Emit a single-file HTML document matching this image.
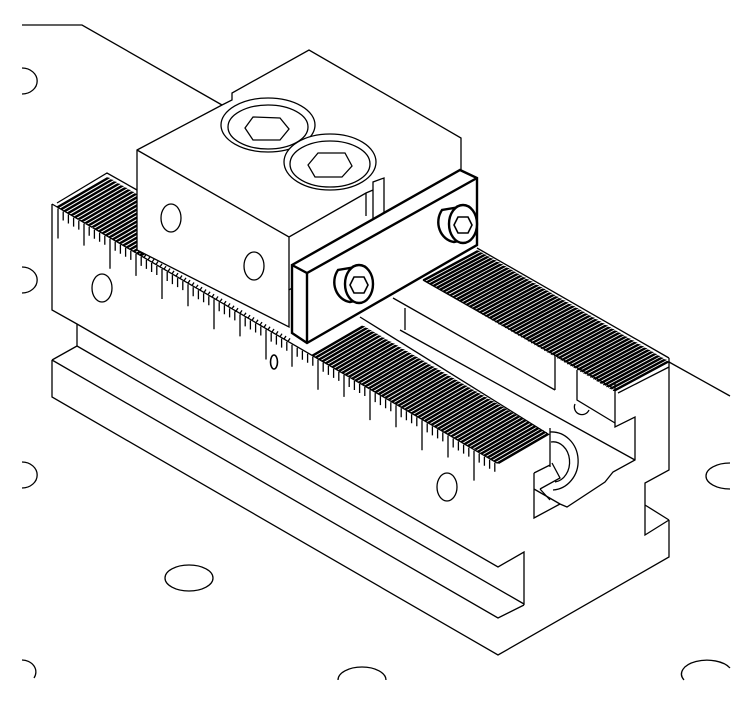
<!DOCTYPE html>
<html><head><style>
html,body{margin:0;padding:0;background:#fff;}
svg{display:block}
</style></head><body>
<svg width="750" height="705" viewBox="0 0 750 705" xmlns="http://www.w3.org/2000/svg">
<g fill="none" stroke="#000" stroke-width="1.3" stroke-linejoin="miter">
<!-- background -->
<path d="M22,25 L82,25 L222,105"/>
<path d="M669,362 L730,396"/>
<path d="M22,68 A14,12 0 0 1 22,94"/>
<path d="M22,267 A14,12 0 0 1 22,293"/>
<path d="M22,462 A14,12 0 0 1 22,488"/>
<path d="M22,660 A14,12 0 0 1 34,678"/>
<ellipse cx="189" cy="578" rx="24" ry="13"/>
<path d="M338,680 A24,13 0 0 1 386,680"/>
<path d="M730,463 A24,13 0 1 0 730,489"/>
<path d="M684,680 A24,13 0 0 1 730,668"/>
<!-- rail + base -->
<path fill="#fff" stroke="none" d="M52,360 L77,346 L77,324 L498,567 L524,552 L524,605 L669,520 L669,557 L498,655 L52,397 Z"/>
<path d="M52,360 L77,346 M52,360 L52,397 L498,655 L669,557 L669,520 M52,360 L498,618 L524,605 M77,346 L524,604"/>
<!-- body -->
<path fill="#fff" stroke="none" d="M52,204 L107,173 L669,358 L669,470 L645,483 L645,535 L524,605 L524,552 L498,567 L77,324 L52,310 Z"/>
<path d="M52,204 L52,310 L77,324 L498,567 L524,552 L524,605 M77,324 L77,346 M669,358 L669,470 L645,483 L645,535 L669,520 M645,505 L669,520 M534,473 L534,518 L560,504 M534,473 L550,465 M534,489 L560,504 L567,507 L605,482 L613,472 L635,460 L635,417 L615,427 L615,383 M618,393 L669,367"/>
<path d="M400,330 L635,460 M393,298 L555,390 M405,308 L405,330 M555,357 L555,390 M577,370 L577,400 L615,423 M550,428 L550,467"/>
<path d="M575,404 A7,7 0 0 0 589,410"/>
<path d="M550,432 A22,24 0 0 1 553,490 M551,442 A14,17 0 0 1 555,482 M552,463 L560,478 L540,489 M540,489 L550,500"/>
<ellipse cx="102" cy="288" rx="10" ry="14"/>
<ellipse cx="447" cy="487" rx="10" ry="14"/>
<ellipse cx="274" cy="362" rx="3.5" ry="7" stroke-width="1.6"/>
<g id="teeth"></g>
<path d="M360,317 L548,434"/>
<!-- jaw block -->
<path fill="#fff" d="M137,150 L222,105 L232,100 L232,93 L309,50 L461,138 L461,170 L384,213 L384,230 L289,290 L289,327 L137,250 Z"/>
<path d="M137,150 L289,237 L366,193 L373,190 L373,222 M366,193 L366,216 M373,190 L373,182 L384,178 L384,213 M289,237 L289,290"/>
<ellipse cx="171" cy="218" rx="10" ry="14"/>
<ellipse cx="254" cy="266" rx="10" ry="14"/>
<ellipse cx="268" cy="125" rx="47" ry="27"/>
<ellipse cx="268" cy="127" rx="40" ry="22"/>
<polygon points="245,128 253,117 280,118 289,129 280,140 253,140"/>
<ellipse cx="330" cy="162" rx="46" ry="28" fill="#fff"/>
<ellipse cx="330" cy="164" rx="40" ry="23"/>
<polygon points="308,165 318,153 345,153 352,166 342,177 315,177"/>
<!-- clamp bar -->
<g stroke-width="2.4">
<path fill="#fff" d="M292,265 L460,170 L477,178 L477,245 L307,343 L292,333 Z"/>
<path d="M292,265 L307,273 L477,178 M307,273 L307,343"/>
<path fill="#fff" d="M338,270 A18,20 0 0 0 350,302 L368,298 A17,22 0 0 0 362,266 Z"/>
<ellipse cx="359" cy="284" rx="14" ry="19" fill="#fff"/>
<polygon points="354,277 364,277 368,285 364,293 354,293 350,285" stroke-width="1.6"/>
<path fill="#fff" d="M442,210 A18,20 0 0 0 454,242 L472,238 A17,22 0 0 0 466,206 Z"/>
<ellipse cx="463" cy="224" rx="14" ry="19" fill="#fff"/>
<polygon points="458,217 468,217 472,225 468,233 458,233 454,225" stroke-width="1.6"/>
</g>
</g>
</svg>
<script>
var NS="http://www.w3.org/2000/svg",t=document.getElementById("teeth"),d="";
var s=0.582;
function strip(x0,x1,n,dx,dy){for(var i=0;i<=n;i++){var x=x0+(x1-x0)*i/n,y=204+(x-52)*s;d+="M"+x.toFixed(1)+","+y.toFixed(1)+"l"+dx+","+dy+"l1.6,0.4l"+(-dx)+","+(-dy);}}
strip(57,140,24,50,-29);
strip(312,497,56,50,-29);
for(var i=0;i<=58;i++){var x=423+(613-423)*i/58,y=280+(x-423)*s;d+="M"+x.toFixed(1)+","+y.toFixed(1)+"l54,-29l1.6,0.4l-54,29";}
for(var x=140;x<290;x+=4){var y=204+(x-52)*s;d+="M"+x+","+y+"l2,-3";}
d+="M52,204 L497,463 M57,203 L107,173 L137,190 M423,280 L613,388 M477,248 L669,358 M497,463 L548,434";
for(var i=0;i<=85;i++){var x=58+i*5.2,y=204+(x-52)*s;if(x>496)break;var L=(i%5==0)?(i%10==0?30:22):9;d+="M"+x.toFixed(1)+","+(y+1).toFixed(1)+"l0,"+L;}
var p=document.createElementNS(NS,"path");p.setAttribute("d",d);p.setAttribute("stroke-width","1.3");t.appendChild(p);
</script>
</body></html>
